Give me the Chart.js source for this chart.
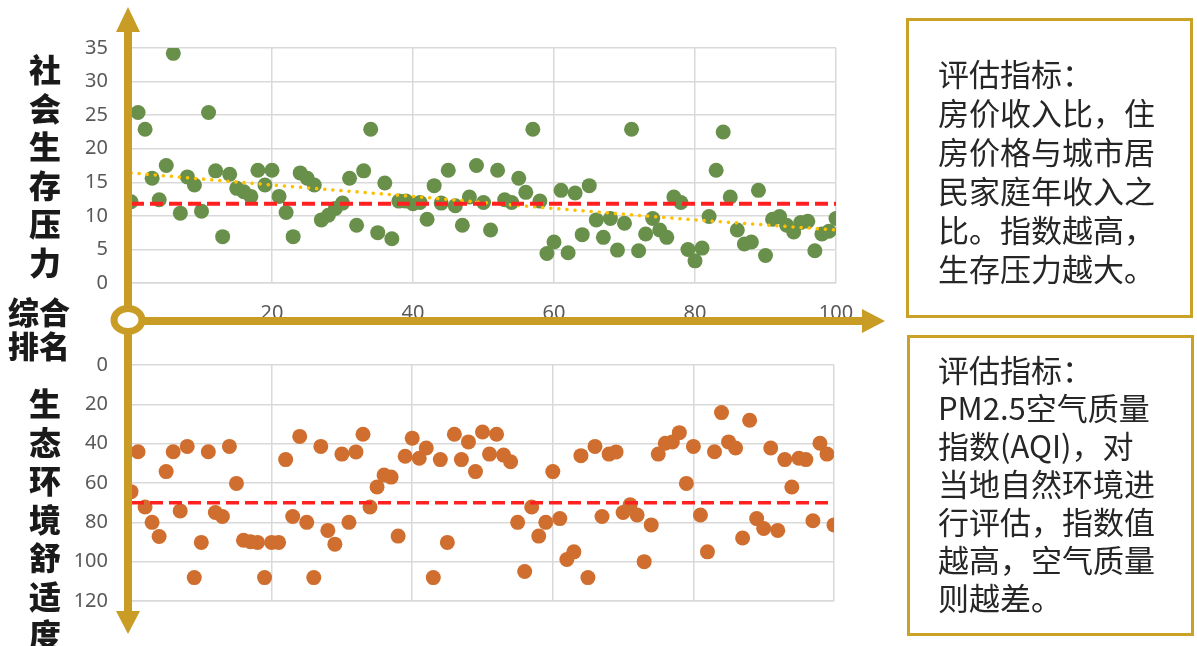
<!DOCTYPE html>
<html>
<head>
<meta charset="utf-8">
<script src="https://cdn.jsdelivr.net/npm/chart.js@4/dist/chart.umd.min.js"></script>
<style>
  body { margin: 0; background: #fff; width: 1197px; height: 646px; overflow: hidden; position: relative; font-family: "Noto Sans CJK SC", "Noto Sans", sans-serif; }
  canvas { position: absolute; left: 0; }
  #c1 { top: 0; }
  #c2 { top: 330px; }
  .vlabel { position: absolute; width: 40px; text-align: center; font-weight: 900; font-size: 32px; line-height: 38.5px; color: #1a1a1a; }
  .hlabel { position: absolute; left: 8px; font-weight: 900; font-size: 31px; line-height: 34px; color: #1a1a1a; }
  .box { position: absolute; border: 3px solid #C9A227; box-sizing: border-box; color: #262626; font-size: 31px; }
  .box div { white-space: nowrap; }
  svg { position: absolute; left: 0; top: 0; }
</style>
</head>
<body>
<canvas id="c1" width="1197" height="330"></canvas>
<canvas id="c2" width="1197" height="316"></canvas>

<div class="vlabel" style="left:25px; top:49px;">社<br>会<br>生<br>存<br>压<br>力</div>
<div class="hlabel" style="top:294px;">综合<br>排名</div>
<div class="vlabel" style="left:25px; top:383px;">生<br>态<br>环<br>境<br>舒<br>适<br>度</div>

<div class="box" style="left:906px; top:18px; width:287px; height:300px; padding:32px 0 0 29px; line-height:39px;">
  <div>评估指标：</div>
  <div>房价收入比，住</div>
  <div>房价格与城市居</div>
  <div>民家庭年收入之</div>
  <div>比。指数越高，</div>
  <div>生存压力越大。</div>
</div>
<div class="box" style="left:907px; top:335px; width:287px; height:301px; padding:12px 0 0 28px; line-height:38px;">
  <div>评估指标：</div>
  <div>PM2.5空气质量</div>
  <div>指数(AQI)，对</div>
  <div>当地自然环境进</div>
  <div>行评估，指数值</div>
  <div>越高，空气质量</div>
  <div>则越差。</div>
</div>

<svg width="1197" height="646">
  <g fill="#C99D25" stroke="none">
    <rect x="124" y="30" width="8" height="584"/>
    <polygon points="128,7 116,32 140,32"/>
    <polygon points="128,634 116,611 140,611"/>
    <rect x="128" y="317" width="738" height="8"/>
    <polygon points="885,321 862,309 862,333"/>
  </g>
  <ellipse cx="128" cy="320" rx="14" ry="11.5" fill="#fff" stroke="#C99D25" stroke-width="7"/>
</svg>

<script>
// 社会生存压力 (house price / income ratio) vs 综合排名
const rankX = [];
for (let i = 0; i <= 100; i++) rankX.push(i);

const pressure = [
  12.1, 25.4, 22.9, 15.6, 12.4, 17.5, 34.2, 10.4, 15.8, 14.6,
  10.7, 25.4, 16.7, 6.9, 16.2, 14.1, 13.6, 12.9, 16.8, 14.6,
  16.8, 12.9, 10.5, 6.9, 16.4, 15.6, 14.6, 9.4, 10.1, 11.1,
  11.9, 15.6, 8.6, 16.7, 22.9, 7.5, 14.9, 6.6, 12.2, 12.2,
  11.8, 12.0, 9.5, 14.5, 11.9, 16.8, 11.5, 8.6, 12.8, 17.5,
  12.0, 7.9, 16.8, 12.4, 12.0, 15.6, 13.5, 22.9, 12.2, 4.4,
  6.1, 13.8, 4.5, 13.4, 7.2, 14.5, 9.4, 6.8, 9.6, 4.9,
  8.9, 22.9, 4.8, 7.3, 9.6, 7.9, 6.8, 12.8, 12.0, 5.0,
  3.3, 5.2, 9.9, 16.8, 22.5, 12.8, 7.9, 5.8, 6.1, 13.8,
  4.1, 9.5, 9.9, 8.6, 7.6, 9.0, 9.2, 4.8, 7.3, 7.7, 9.6
];

// 生态环境舒适度 (AQI) vs 综合排名
const aqi = [
  64.4, 44.1, 72.2, 80.0, 87.2, 54.2, 44.1, 74.2, 41.4, 108.1,
  90.2, 44.1, 75.0, 77.0, 41.4, 60.2, 89.1, 89.9, 90.2, 108.1,
  90.2, 90.2, 48.1, 77.0, 36.3, 80.0, 108.1, 41.4, 84.1, 91.1,
  45.3, 80.0, 44.2, 35.2, 72.2, 62.0, 55.9, 57.0, 87.0, 46.4,
  37.2, 47.4, 42.2, 108.1, 48.1, 90.2, 35.2, 48.1, 39.1, 54.2,
  34.1, 45.3, 35.2, 45.8, 49.2, 80.0, 105.0, 72.2, 87.0, 80.0,
  54.2, 78.1, 98.9, 95.0, 46.1, 108.1, 41.4, 77.0, 45.3, 44.2,
  75.0, 71.1, 76.3, 100.0, 81.3, 45.3, 39.8, 39.1, 34.4, 60.2,
  41.4, 76.3, 95.0, 44.1, 24.2, 39.1, 42.2, 88.0, 28.1, 78.1,
  83.1, 42.2, 84.1, 48.1, 62.0, 47.4, 48.1, 79.2, 39.8, 45.3, 81.3
];

// reference lines
const pressureAvg = 11.8;
const aqiAvg = 70;
const trendX = [0, 20, 40, 60, 80, 100];
const trendY = [16.4, 14.6, 12.9, 11.1, 9.4, 7.9];

const xTicks = [20, 40, 60, 80, 100];

const gridColor = "#D9D9D9";
const tickColor = "#595959";
const tickFont = { family: "Noto Sans", size: 20 };

function toPoints(xs, ys) {
  return xs.map((x, i) => ({ x: x, y: ys[i] }));
}

function hLine(y) {
  return [{ x: 0, y: y }, { x: 100, y: y }];
}

const topChart = document.getElementById("c1").getContext("2d");
new Chart(topChart, {
  type: "scatter",
  data: {
    datasets: [
      {
        type: "line",
        data: hLine(pressureAvg),
        borderColor: "#FF2020",
        borderWidth: 4,
        borderDash: [13, 6],
        pointRadius: 0,
        fill: false,
      },
      {
        type: "line",
        data: toPoints(trendX, trendY),
        borderColor: "#FFC000",
        borderWidth: 3.5,
        borderDash: [0.1, 8],
        borderCapStyle: "round",
        pointRadius: 0,
        fill: false,
      },
      {
        data: toPoints(rankX, pressure),
        backgroundColor: "#68904A",
        borderWidth: 0,
        pointRadius: 7.5,
        pointHoverRadius: 7.5,
      },
    ],
  },
  options: {
    responsive: false,
    animation: false,
    layout: { padding: { top: 48, right: 361, left: 0, bottom: 0 } },
    plugins: { legend: { display: false }, tooltip: { enabled: false } },
    scales: {
      x: {
        type: "linear",
        min: 0,
        max: 100,
        afterBuildTicks: (s) => { s.ticks = [0].concat(xTicks).map((v) => ({ value: v })); },
        ticks: { padding: 18, color: tickColor, font: tickFont, callback: (v) => (v === 0 ? "" : v) },
        grid: { color: gridColor, lineWidth: 1.5, drawTicks: false },
        border: { color: gridColor, width: 1.5 },
        afterFit: (s) => { s.height = 47; },
      },
      y: {
        min: 0,
        max: 35,
        ticks: { stepSize: 5, padding: 23, color: tickColor, font: tickFont },
        grid: { color: gridColor, lineWidth: 1.5, drawTicks: false },
        border: { color: gridColor, width: 1.5 },
        afterFit: (s) => { s.width = 131; },
      },
    },
  },
});

const bottomChart = document.getElementById("c2").getContext("2d");
new Chart(bottomChart, {
  type: "scatter",
  data: {
    datasets: [
      {
        type: "line",
        data: hLine(aqiAvg),
        borderColor: "#FF2020",
        borderWidth: 3.5,
        borderDash: [13, 6],
        pointRadius: 0,
        fill: false,
      },
      {
        data: toPoints(rankX, aqi),
        backgroundColor: "#CF6E2E",
        borderWidth: 0,
        pointRadius: 7.5,
        pointHoverRadius: 7.5,
      },
    ],
  },
  options: {
    responsive: false,
    animation: false,
    layout: { padding: { top: 15, right: 363, left: 0, bottom: 0 } },
    plugins: { legend: { display: false }, tooltip: { enabled: false } },
    scales: {
      x: {
        type: "linear",
        min: 0,
        max: 100,
        afterBuildTicks: (s) => { s.ticks = [0].concat(xTicks).map((v) => ({ value: v })); },
        ticks: { display: false },
        grid: { color: gridColor, lineWidth: 1.5, drawTicks: false },
        border: { color: gridColor, width: 1.5 },
        afterFit: (s) => { s.height = 45; },
      },
      y: {
        min: 0,
        max: 120,
        reverse: true,
        ticks: { stepSize: 20, padding: 23, color: tickColor, font: tickFont },
        grid: { color: gridColor, lineWidth: 1.5, drawTicks: false },
        border: { color: gridColor, width: 1.5 },
        afterFit: (s) => { s.width = 131; },
      },
    },
  },
});
</script>
</body>
</html>
